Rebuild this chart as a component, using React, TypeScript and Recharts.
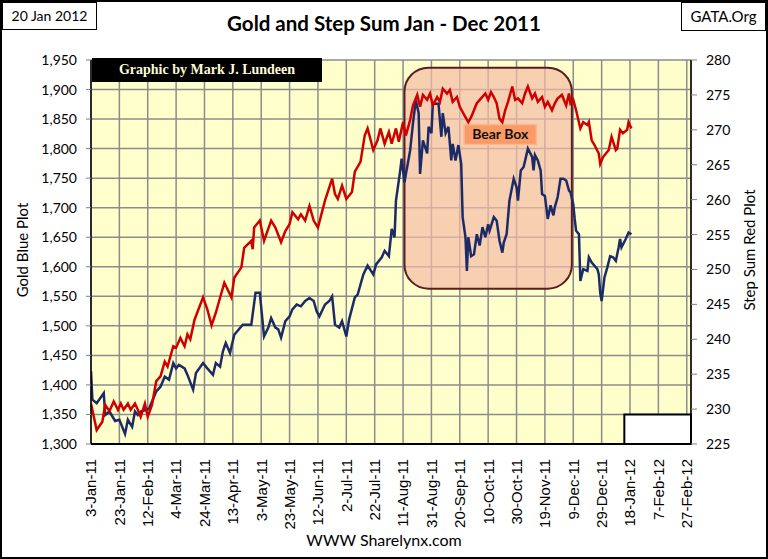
import React from 'react';
import { LineChart, Line, XAxis, YAxis, CartesianGrid, ReferenceArea } from 'recharts';

// days counted from 3-Jan-2011
const goldDays = [0, 1, 4, 9, 10, 13, 17, 20, 24, 26, 29, 31, 33, 35, 39, 41, 43, 46, 49, 52, 55, 58, 60, 62, 66, 68, 72, 74, 79, 82, 86, 88, 91, 93, 95, 98, 101, 107, 113, 116, 119, 122, 125, 127, 130, 132, 134, 137, 140, 142, 145, 148, 151, 154, 157, 159, 161, 165, 168, 170, 172, 175, 177, 180, 182, 186, 188, 192, 195, 199, 201, 205, 207, 210, 212, 214, 215, 218, 219, 221, 222, 225, 227, 229, 231, 232, 234, 237, 238, 240, 241, 244, 245, 247, 248, 250, 252, 254, 255, 257, 259, 261, 262, 264, 265, 266, 268, 270, 272, 274, 276, 278, 280, 281, 284, 286, 288, 290, 291, 293, 295, 298, 300, 301, 303, 305, 308, 311, 312, 313, 315, 317, 318, 320, 322, 324, 326, 327, 329, 331, 333, 335, 337, 338, 340, 341, 342, 344, 345, 347, 350, 351, 353, 357, 358, 359, 360, 362, 364, 366, 368, 370, 372, 373, 374, 377, 379, 381];
const goldPrices = [1423, 1375, 1369, 1386, 1349, 1355, 1339, 1341, 1317, 1341, 1329, 1355, 1349, 1355, 1358, 1360, 1372, 1389, 1397, 1414, 1409, 1437, 1428, 1434, 1428, 1417, 1392, 1420, 1437, 1428, 1417, 1437, 1431, 1457, 1471, 1454, 1485, 1502, 1502, 1556, 1556, 1482, 1497, 1513, 1497, 1494, 1480, 1508, 1516, 1528, 1536, 1533, 1542, 1547, 1542, 1525, 1516, 1536, 1542, 1550, 1502, 1497, 1508, 1482, 1511, 1548, 1553, 1587, 1602, 1587, 1604, 1616, 1627, 1618, 1664, 1650, 1712, 1763, 1783, 1743, 1757, 1797, 1843, 1882, 1860, 1757, 1814, 1792, 1837, 1826, 1876, 1876, 1876, 1820, 1860, 1826, 1837, 1780, 1808, 1780, 1806, 1774, 1684, 1650, 1593, 1650, 1618, 1621, 1655, 1636, 1667, 1650, 1672, 1661, 1684, 1678, 1644, 1624, 1641, 1655, 1712, 1749, 1735, 1712, 1763, 1769, 1800, 1786, 1763, 1789, 1780, 1763, 1723, 1720, 1681, 1704, 1687, 1701, 1718, 1749, 1749, 1746, 1729, 1726, 1706, 1681, 1661, 1655, 1576, 1596, 1593, 1616, 1607, 1596, 1587, 1556, 1542, 1582, 1599, 1618, 1616, 1610, 1633, 1647, 1633, 1647, 1658, 1655];

const stepDays = [0, 4, 8, 10, 13, 16, 19, 21, 23, 26, 28, 31, 33, 35, 38, 40, 43, 46, 49, 52, 54, 58, 60, 63, 66, 68, 70, 73, 79, 82, 85, 88, 94, 99, 101, 106, 108, 113, 114, 115, 119, 122, 127, 130, 134, 137, 140, 142, 146, 148, 151, 154, 157, 160, 165, 170, 172, 174, 177, 180, 184, 186, 190, 193, 195, 199, 202, 204, 207, 210, 212, 215, 217, 220, 222, 225, 227, 230, 232, 234, 237, 239, 241, 244, 246, 248, 251, 253, 255, 258, 260, 264, 266, 268, 272, 275, 278, 280, 282, 284, 286, 288, 290, 292, 294, 297, 299, 301, 304, 306, 308, 311, 313, 315, 318, 320, 322, 325, 327, 329, 332, 335, 337, 338, 340, 342, 345, 347, 350, 351, 353, 355, 358, 359, 361, 365, 367, 370, 371, 373, 375, 378, 379, 381];
const stepSums = [230.8, 227.0, 228.2, 230.6, 229.7, 231.1, 229.9, 230.8, 229.9, 230.8, 229.9, 230.8, 229.9, 228.9, 230.8, 228.9, 230.6, 234.0, 234.7, 236.8, 236.1, 239.0, 238.8, 240.2, 239.0, 240.7, 240.0, 242.8, 246.0, 244.3, 242.0, 243.8, 248.1, 246.0, 248.8, 250.3, 253.1, 254.1, 252.9, 256.0, 257.0, 254.1, 257.0, 256.0, 253.9, 255.5, 256.5, 258.2, 257.2, 257.9, 257.0, 259.1, 257.0, 256.0, 259.9, 263.0, 260.8, 260.1, 262.0, 260.1, 261.1, 264.0, 265.4, 269.2, 270.2, 267.1, 268.5, 270.2, 268.0, 269.7, 268.0, 270.2, 268.3, 271.1, 269.2, 271.4, 273.5, 275.0, 273.3, 275.0, 274.3, 275.2, 273.5, 274.7, 274.0, 275.9, 275.2, 275.7, 274.0, 274.7, 273.3, 271.8, 271.1, 271.8, 273.8, 274.5, 275.2, 274.3, 275.4, 274.7, 273.8, 271.6, 271.1, 272.8, 274.0, 276.2, 274.3, 274.5, 273.8, 275.2, 276.2, 274.5, 275.2, 274.0, 274.7, 273.3, 274.0, 272.8, 273.8, 274.5, 275.0, 273.5, 275.2, 273.8, 274.3, 272.8, 270.2, 271.1, 270.7, 271.1, 268.5, 267.8, 266.6, 265.1, 266.1, 267.1, 269.0, 267.1, 267.3, 270.0, 269.5, 270.0, 271.1, 270.2];

const dateTicks = [0, 20, 40, 60, 80, 100, 120, 140, 160, 180, 200, 220, 240, 260, 280, 300, 320, 340, 360, 380, 400, 420];
const goldTicks = [1300, 1350, 1400, 1450, 1500, 1550, 1600, 1650, 1700, 1750, 1800, 1850, 1900, 1950];
const stepTicks = [225, 230, 235, 240, 245, 250, 255, 260, 265, 270, 275, 280];

// annotation boxes (days / gold price)
const bearBox = { from: 221, to: 339, top: 1937, bottom: 1563 };
const bearLabel = { from: 263, to: 314, top: 1841, bottom: 1807 };
const blankBox = { from: 376, to: 423, top: 1350, bottom: 1300 };

const months = ['Jan', 'Feb', 'Mar', 'Apr', 'May', 'Jun', 'Jul', 'Aug', 'Sep', 'Oct', 'Nov', 'Dec'];
const fmtDate = (d: number) => {
  const dt = new Date(2011, 0, 3 + d);
  return `${dt.getDate()}-${months[dt.getMonth()]}-${String(dt.getFullYear()).slice(2)}`;
};

const goldData = goldDays.map((d, i) => ({ day: d, gold: goldPrices[i] }));
const stepData = stepDays.map((d, i) => ({ day: d, step: stepSums[i] }));

const DateTick = (props: any) => {
  const { x, y, payload } = props;
  const ty = y + 13;
  return (
    <text x={x} y={ty} transform={`rotate(-90 ${x} ${ty})`} textAnchor="end" dy="0.36em"
      fontSize={15} fontFamily="'Liberation Sans', Arial" fill="#000">
      {fmtDate(payload.value)}
    </text>
  );
};

const RoundBox = (props: any) => {
  const { x, y, width, height } = props;
  return <rect x={x} y={y} width={width} height={height} rx={24} ry={24} fill="#F4BAA5" fillOpacity={0.7} stroke="#5A1E1E" strokeWidth={2} />;
};

const font = 'Lato, "Noto Sans", sans-serif';

const App: React.FC = () => {
  return (
    <div style={{ position: 'absolute', left: 0, top: 0, width: 768, height: 559, background: '#fff', border: '2px solid #000', boxSizing: 'border-box', fontFamily: font, overflow: 'hidden' }}>
      <div style={{ position: 'absolute', left: 0, top: 0 }}>
        <LineChart width={764} height={555} margin={{ top: 58, right: 0, bottom: 0, left: 0 }}>
          <CartesianGrid yAxisId="left" fill="#FFFFCC" fillOpacity={1} stroke="#8c8c8c" strokeWidth={1.5} />
          <XAxis dataKey="day" type="number" domain={[0, 423]} ticks={dateTicks} interval={0} allowDataOverflow
            height={113} tickLine={false} tickSize={0} axisLine={{ stroke: '#000', strokeWidth: 2 }} tick={<DateTick />} />
          <YAxis yAxisId="left" domain={[1300, 1950]} ticks={goldTicks} interval={0} width={89} allowDataOverflow
            tickFormatter={(v) => v.toLocaleString('en-US')} tickSize={5} tickMargin={9}
            tickLine={{ stroke: '#808080' }} axisLine={{ stroke: '#000', strokeWidth: 1.5 }}
            tick={{ fill: '#000', fontSize: 14, fontFamily: font }} />
          <YAxis yAxisId="right" orientation="right" domain={[225, 280]} ticks={stepTicks} interval={0} width={75} allowDataOverflow
            tickSize={6} tickMargin={9} tickLine={{ stroke: '#808080' }} axisLine={{ stroke: '#000', strokeWidth: 1.5 }}
            tick={{ fill: '#000', fontSize: 14, fontFamily: font }} />
          <ReferenceArea yAxisId="left" x1={bearBox.from} x2={bearBox.to} y1={bearBox.bottom} y2={bearBox.top} shape={<RoundBox />} />
          <ReferenceArea yAxisId="left" x1={bearLabel.from} x2={bearLabel.to} y1={bearLabel.bottom} y2={bearLabel.top}
            fill="#FA9A66" fillOpacity={1} stroke="#FBB890" strokeWidth={1.5}
            label={{ value: 'Bear Box', position: 'center', fill: '#111', fontSize: 14, fontWeight: 'bold', fontFamily: font }} />
          <ReferenceArea yAxisId="left" x1={blankBox.from} x2={blankBox.to} y1={blankBox.bottom} y2={blankBox.top}
            fill="#fff" fillOpacity={1} stroke="#000" strokeWidth={2} ifOverflow="visible" />
          <Line yAxisId="left" data={goldData} dataKey="gold" type="linear" stroke="#1C2B66" strokeWidth={2.5} dot={false} isAnimationActive={false} />
          <Line yAxisId="right" data={stepData} dataKey="step" type="linear" stroke="#D00000" strokeWidth={2.5} dot={false} isAnimationActive={false} />
        </LineChart>
      </div>

      <div style={{ position: 'absolute', left: 0, top: 0, width: 95, height: 28, border: '1px solid #000', boxSizing: 'border-box', background: '#fff', fontSize: 14, lineHeight: '26px', textAlign: 'center' }}>20 Jan 2012</div>
      <div style={{ position: 'absolute', left: 679, top: 0, width: 85, height: 29, border: '1px solid #000', boxSizing: 'border-box', background: '#fff', fontSize: 15, lineHeight: '27px', textAlign: 'center' }}>GATA.Org</div>
      <div style={{ position: 'absolute', left: 0, top: 8, width: 764, textAlign: 'center', fontSize: 20.5, fontWeight: 'bold', lineHeight: '26px' }}>Gold and Step Sum Jan - Dec 2011</div>

      <div style={{ position: 'absolute', left: 90, top: 56, width: 230, height: 24, background: '#000', color: '#FFFBD8', fontFamily: "'Liberation Serif', 'DejaVu Serif', serif", fontWeight: 'bold', fontSize: 14, lineHeight: '24px', textAlign: 'center' }}>Graphic by Mark J. Lundeen</div>

      <div style={{ position: 'absolute', left: 20, top: 248, transform: 'translate(-50%, -50%) rotate(-90deg)', whiteSpace: 'nowrap', fontSize: 15 }}>Gold Blue Plot</div>
      <div style={{ position: 'absolute', left: 747, top: 248, transform: 'translate(-50%, -50%) rotate(-90deg)', whiteSpace: 'nowrap', fontSize: 15 }}>Step Sum Red Plot</div>

      <div style={{ position: 'absolute', left: 0, top: 527, width: 764, textAlign: 'center', fontSize: 16, lineHeight: '22px' }}>WWW Sharelynx.com</div>
    </div>
  );
};

export default App;
